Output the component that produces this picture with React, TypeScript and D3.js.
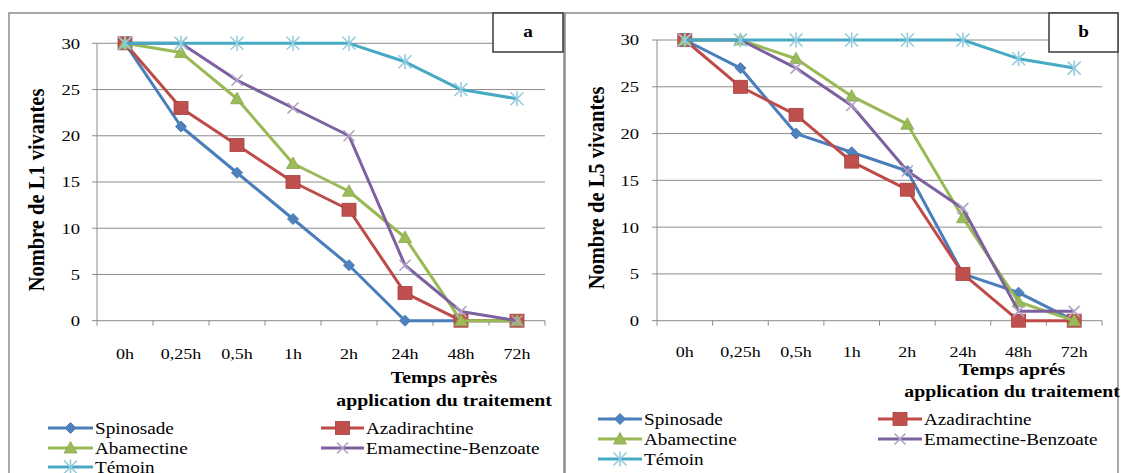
import * as d3 from 'd3'

const CATEGORIES = ['0h', '0,25h', '0,5h', '1h', '2h', '24h', '48h', '72h']
const Y_TICKS = [0, 5, 10, 15, 20, 25, 30]
const SERIES = ['Spinosade', 'Azadirachtine', 'Abamectine', 'Emamectine-Benzoate', 'Témoin']

// panel a : larves L1
const L1_SPINOSADE = [30, 21, 16, 11, 6, 0, 0, 0]
const L1_AZADIRACHTINE = [30, 23, 19, 15, 12, 3, 0, 0]
const L1_ABAMECTINE = [30, 29, 24, 17, 14, 9, 0, 0]
const L1_EMAMECTINE = [30, 30, 26, 23, 20, 6, 1, 0]
const L1_TEMOIN = [30, 30, 30, 30, 30, 28, 25, 24]

// panel b : larves L5
const L5_SPINOSADE = [30, 27, 20, 18, 16, 5, 3, 0]
const L5_AZADIRACHTINE = [30, 25, 22, 17, 14, 5, 0, 0]
const L5_ABAMECTINE = [30, 30, 28, 24, 21, 11, 2, 0]
const L5_EMAMECTINE = [30, 30, 27, 23, 16, 12, 1, 1]
const L5_TEMOIN = [30, 30, 30, 30, 30, 30, 28, 27]

const LINE_COLORS = ['#4a7ebb', '#be4b48', '#98b954', '#7d60a0', '#46aac5']
const MARKER_COLORS = ['#4f81bd', '#c0504d', '#9bbb59', '#b3a2c7', '#93cddd']

const FONT = '"Liberation Serif", "Times New Roman", serif'
const SX = 1.2 // the source image is stretched horizontally

interface Panel {
  frame: [number, number, number, number]
  box: [number, number, number, number]
  label: string
  xRange: [number, number]
  yRange: [number, number]
  tickRight: number
  xLabelY: number
  yTitle: string
  yTitlePos: [number, number]
  xTitle: [string, string]
  xTitlePos: [number, number, number]
  legendRows: number[]
  legendCols: [number, number, number][]
  data: number[][]
}

const PANELS: Panel[] = [
  {
    frame: [9, 13, 564, 520],
    box: [493, 13, 563, 52],
    label: 'a',
    xRange: [97, 545],
    yRange: [320.7, 43.3],
    tickRight: 80,
    xLabelY: 354,
    yTitle: 'Nombre de L1 vivantes',
    yTitlePos: [36, 190],
    xTitle: ['Temps après', 'application du traitement'],
    xTitlePos: [444, 377, 400],
    legendRows: [428, 448, 467],
    legendCols: [
      [48, 93, 95],
      [321, 364, 366],
    ],
    data: [L1_SPINOSADE, L1_AZADIRACHTINE, L1_ABAMECTINE, L1_EMAMECTINE, L1_TEMOIN],
  },
  {
    frame: [565, 13, 1118, 520],
    box: [1049, 13, 1118, 52],
    label: 'b',
    xRange: [657, 1102],
    yRange: [320.7, 40],
    tickRight: 639,
    xLabelY: 352,
    yTitle: 'Nombre de L5 vivantes',
    yTitlePos: [596, 188],
    xTitle: ['Temps aprés', 'application du traitement'],
    xTitlePos: [1012, 369.5, 391],
    legendRows: [419, 439, 459],
    legendCols: [
      [598, 642, 644],
      [878, 922, 924],
    ],
    data: [L5_SPINOSADE, L5_AZADIRACHTINE, L5_ABAMECTINE, L5_EMAMECTINE, L5_TEMOIN],
  },
]

function Marker({ kind, x, y }: { kind: number; x: number; y: number }) {
  const c = MARKER_COLORS[kind]
  if (kind === 0) {
    const r = 5.5
    return <path d={`M${x},${y - r}L${x + r},${y}L${x},${y + r}L${x - r},${y}Z`} fill={c} stroke={LINE_COLORS[0]} />
  }
  if (kind === 1) {
    return <rect x={x - 7} y={y - 6.5} width={14} height={13} fill={c} stroke="#a5403d" strokeWidth={0.8} />
  }
  if (kind === 2) {
    return <path d={`M${x},${y - 6.5}L${x + 6.5},${y + 5}L${x - 6.5},${y + 5}Z`} fill={c} stroke="#8aa84c" strokeWidth={0.8} />
  }
  const r = kind === 3 ? 5.5 : 6.5
  const d = `M${x - r},${y - r}L${x + r},${y + r}M${x - r},${y + r}L${x + r},${y - r}` +
    (kind === 4 ? `M${x},${y - r - 1}L${x},${y + r + 1}` : '')
  return <path d={d} stroke={c} strokeWidth={1.6} fill="none" />
}

function STextAt({ x, y, children, anchor = 'start', size = 16, weight = 'normal', rotate = 0, sx = SX }: any) {
  return (
    <text
      transform={`translate(${x},${y}) scale(${sx},1)${rotate ? ` rotate(${rotate})` : ''}`}
      textAnchor={anchor}
      dy="0.35em"
      fontSize={size}
      fontWeight={weight}
      fontFamily={FONT}
      fill="#000"
    >
      {children}
    </text>
  )
}

function ChartPanel({ p }: { p: Panel }) {
  const x = d3.scaleBand<string>().domain(CATEGORIES).range(p.xRange).padding(0)
  const y = d3.scaleLinear().domain([0, 30]).range(p.yRange)
  const cx = (i: number) => x(CATEGORIES[i])! + x.bandwidth() / 2
  const line = d3.line<number>((_, i) => cx(i), (d) => y(d))
  const bounds = [...CATEGORIES.map((c) => x(c)!), p.xRange[1]]
  const [fx0, fy0, fx1, fy1] = p.frame
  const [bx0, by0, bx1, by1] = p.box

  return (
    <g>
      <rect x={fx0} y={fy0} width={fx1 - fx0} height={fy1 - fy0} fill="#fff" stroke="#8a8a8a" strokeWidth={1.5} />
      {/* grid */}
      {Y_TICKS.map((t) => (
        <g key={t}>
          <line x1={p.xRange[0] - 5} x2={p.xRange[1]} y1={y(t)} y2={y(t)} stroke="#8c8c8c" strokeWidth={1} />
          <STextAt x={p.tickRight} y={y(t)} anchor="end" size={15.5}>
            {t}
          </STextAt>
        </g>
      ))}
      <line x1={p.xRange[0]} x2={p.xRange[0]} y1={y(0)} y2={y(30)} stroke="#8c8c8c" strokeWidth={1} />
      {bounds.map((b, i) => (
        <line key={i} x1={b} x2={b} y1={y(0)} y2={y(0) + 5} stroke="#8c8c8c" strokeWidth={1} />
      ))}
      {CATEGORIES.map((c, i) => (
        <STextAt key={c} x={cx(i)} y={p.xLabelY} anchor="middle" size={15}>
          {c}
        </STextAt>
      ))}
      {/* series */}
      {p.data.map((vals, s) => (
        <g key={s}>
          <path d={line(vals)!} fill="none" stroke={LINE_COLORS[s]} strokeWidth={3} strokeLinejoin="round" />
          {vals.map((v, i) => (
            <Marker key={i} kind={s} x={cx(i)} y={y(v)} />
          ))}
        </g>
      ))}
      {/* letter box */}
      <rect x={bx0} y={by0} width={bx1 - bx0} height={by1 - by0} fill="#fff" stroke="#3a3a3a" strokeWidth={1.5} />
      <STextAt x={(bx0 + bx1) / 2} y={(by0 + by1) / 2 - 1} anchor="middle" size={16} weight="bold">
        {p.label}
      </STextAt>
      {/* axis titles */}
      <STextAt x={p.yTitlePos[0]} y={p.yTitlePos[1]} anchor="middle" size={20.5} weight="bold" rotate={-90} sx={1.1}>
        {p.yTitle}
      </STextAt>
      <STextAt x={p.xTitlePos[0]} y={p.xTitlePos[1]} anchor="middle" size={16.5} weight="bold">
        {p.xTitle[0]}
      </STextAt>
      <STextAt x={p.xTitlePos[0]} y={p.xTitlePos[2]} anchor="middle" size={16.5} weight="bold">
        {p.xTitle[1]}
      </STextAt>
      {/* legend */}
      {SERIES.map((name, s) => {
        const [l0, l1, tx] = p.legendCols[s % 2]
        const ly = p.legendRows[Math.floor(s / 2)]
        return (
          <g key={name}>
            <line x1={l0} x2={l1} y1={ly} y2={ly} stroke={LINE_COLORS[s]} strokeWidth={3} />
            <Marker kind={s} x={(l0 + l1) / 2} y={ly} />
            <STextAt x={tx} y={ly} size={16}>
              {name}
            </STextAt>
          </g>
        )
      })}
    </g>
  )
}

export default function App() {
  return (
    <svg
      width={1121}
      height={473}
      viewBox="0 0 1121 473"
      style={{ position: 'absolute', left: 0, top: 0, fontFamily: FONT, background: '#fff' }}
    >
      <rect width={1121} height={473} fill="#fff" />
      {PANELS.map((p) => (
        <ChartPanel key={p.label} p={p} />
      ))}
    </svg>
  )
}
